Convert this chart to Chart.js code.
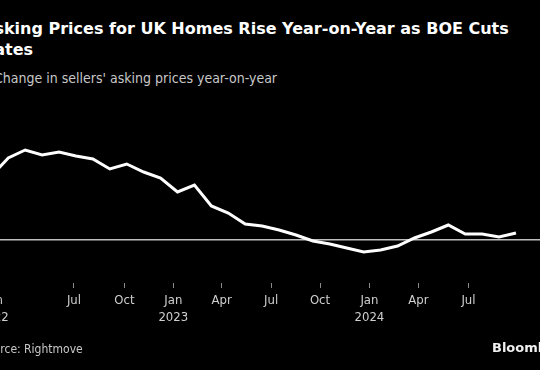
<!DOCTYPE html>
<html>
<head>
<meta charset="utf-8">
<script src="https://cdn.jsdelivr.net/npm/chart.js@4.4.1/dist/chart.umd.min.js"></script>
<style>
  html, body { margin: 0; padding: 0; background: #000; }
  body { width: 540px; height: 370px; overflow: hidden; position: relative; font-family: "DejaVu Sans", sans-serif; }
  .title { position: absolute; left: -18px; top: 18px; color: #fff; font-weight: bold; font-size: 16px; line-height: 21px; white-space: nowrap; }
  .subtitle { position: absolute; left: -6px; top: 69px; color: #c8c8c8; font-family: "DejaVu Sans Condensed", sans-serif; font-size: 14px; line-height: 18px; white-space: nowrap; }
  .chart-box { position: absolute; left: -40px; top: 110px; width: 620px; height: 260px; }
  .source { position: absolute; left: -20px; top: 341px; color: #c8c8c8; font-family: "DejaVu Sans Condensed", sans-serif; font-size: 12px; line-height: 16px; white-space: nowrap; }
  .brand { position: absolute; left: 492px; top: 340px; color: #f0f0f0; font-weight: bold; font-size: 13px; line-height: 16px; white-space: nowrap; }
</style>
</head>
<body>
  <div class="title">Asking Prices for UK Homes Rise Year-on-Year as BOE Cuts<br>Rates</div>
  <div class="subtitle">Change in sellers' asking prices year-on-year</div>
  <div class="chart-box"><canvas id="chart" width="620" height="260"></canvas></div>
  <div class="source">Source: Rightmove</div>
  <div class="brand">Bloomberg</div>

<script>
// monthly readings, Feb 2022 .. Sep 2024
const months = [
  "Feb 2022", "Mar 2022", "Apr 2022", "May 2022", "Jun 2022", "Jul 2022", "Aug 2022",
  "Sep 2022", "Oct 2022", "Nov 2022", "Dec 2022", "Jan 2023", "Feb 2023", "Mar 2023",
  "Apr 2023", "May 2023", "Jun 2023", "Jul 2023", "Aug 2023", "Sep 2023", "Oct 2023",
  "Nov 2023", "Dec 2023", "Jan 2024", "Feb 2024", "Mar 2024", "Apr 2024", "May 2024",
  "Jun 2024", "Jul 2024", "Aug 2024", "Sep 2024"
];
const askingPriceChange = [
  6.4, 8.2, 9.0, 8.5, 8.8, 8.4, 8.1,
  7.1, 7.6, 6.8, 6.2, 4.8, 5.5, 3.4,
  2.7, 1.6, 1.4, 1.0, 0.5, -0.1, -0.4,
  -0.8, -1.2, -1.0, -0.6, 0.2, 0.8, 1.5,
  0.6, 0.6, 0.3, 0.7
];

// axis ticks (position in the month index above) and their labels
const tickPositions = [0.15, 4.88, 7.86, 10.75, 13.61, 16.53, 19.42, 22.34, 25.23, 28.19];
const tickLabels = [
  ["Jan", "2022"], "Jul", "Oct", ["Jan", "2023"], "Apr", "Jul", "Oct", ["Jan", "2024"], "Apr", "Jul"
];

const points = askingPriceChange.map((v, i) => ({ x: i, y: v }));

new Chart(document.getElementById("chart"), {
  type: "line",
  data: {
    labels: months,
    datasets: [{
      label: "Asking prices YoY",
      data: points,
      borderColor: "#ffffff",
      borderWidth: 3,
      pointRadius: 0,
      tension: 0
    }]
  },
  options: {
    responsive: false,
    animation: false,
    layout: { padding: { left: 20, right: 20, top: 20, bottom: 37 } },
    scales: {
      x: {
        type: "linear",
        min: -0.67,
        max: 33.6,
        afterBuildTicks: scale => { scale.ticks = tickPositions.map(v => ({ value: v })); },
        afterFit: scale => { scale.height = 50; },
        ticks: {
          autoSkip: false,
          maxRotation: 0,
          padding: 4,
          color: "#cfcfcf",
          font: { family: "DejaVu Sans Condensed", size: 13, lineHeight: 1.3 },
          callback: (value, index) => tickLabels[index]
        },
        grid: { drawOnChartArea: false, drawTicks: true, tickLength: 5, color: "#8a8a8a" },
        border: { display: false }
      },
      y: {
        min: -4.3,
        max: 11,
        afterBuildTicks: scale => { scale.ticks = [{ value: 0 }]; },
        afterFit: scale => { scale.width = 0; },
        ticks: { display: false },
        grid: { drawTicks: false, color: "#bdbdbd", lineWidth: 1.5 },
        border: { display: false }
      }
    },
    plugins: {
      legend: { display: false },
      tooltip: { enabled: false }
    }
  }
});
</script>
</body>
</html>
